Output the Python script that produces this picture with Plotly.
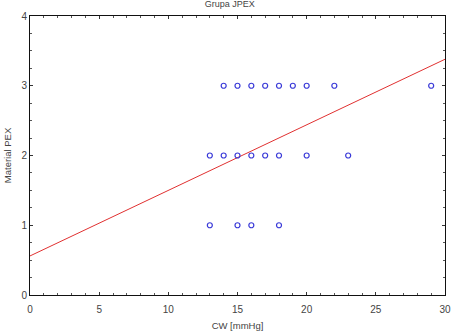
import plotly.graph_objects as go

# Data
x_level3 = [14, 15, 16, 17, 18, 19, 20, 22, 29]
x_level2 = [13, 14, 15, 16, 17, 18, 20, 23]
x_level1 = [13, 15, 16, 18]
fit_intercept = 0.56
fit_slope = 0.094
x_range = [0, 30]

xs = x_level3 + x_level2 + x_level1
ys = [3] * len(x_level3) + [2] * len(x_level2) + [1] * len(x_level1)

fig = go.Figure()
fig.add_trace(go.Scatter(
    x=x_range,
    y=[fit_intercept + fit_slope * v for v in x_range],
    mode="lines",
    line=dict(color="#e03030", width=1),
    showlegend=False,
))
fig.add_trace(go.Scatter(
    x=xs, y=ys, mode="markers",
    marker=dict(symbol="circle-open", size=5, color="#3a3ad8", line=dict(width=1.2)),
    showlegend=False,
))

ff = "Liberation Sans, Arial, sans-serif"
tickfont = dict(family=ff, size=10, color="#444444")
titlefont = dict(family=ff, size=9.5, color="#444444")
axis_common = dict(
    showgrid=False, zeroline=False, showline=True, linecolor="#111111", linewidth=1,
    mirror="allticks", ticks="inside", ticklen=3, tickcolor="#333333",
    tickfont=tickfont, automargin=False,
)
fig.update_layout(
    width=455, height=332,
    margin=dict(l=30, r=10, t=16, b=37),
    paper_bgcolor="white", plot_bgcolor="white",
    title=dict(text="Grupa JPEX", x=0.505, xanchor="center", y=0.998, yanchor="top",
               font=dict(family=ff, size=9, color="#444444")),
    xaxis=dict(range=[0, 30], dtick=5, tick0=0,
               minor=dict(dtick=1, ticks="inside", ticklen=2, tickcolor="#555555"),
               ticklabelstandoff=5,
               title=dict(text="CW [mmHg]", font=titlefont, standoff=8),
               **axis_common),
    yaxis=dict(range=[0, 4], dtick=1, tick0=0,
               minor=dict(dtick=0.25, ticks="inside", ticklen=2, tickcolor="#555555"),
               title=dict(text="Material PEX", font=titlefont, standoff=8),
               **axis_common),
)
fig.write_html("out.html")
